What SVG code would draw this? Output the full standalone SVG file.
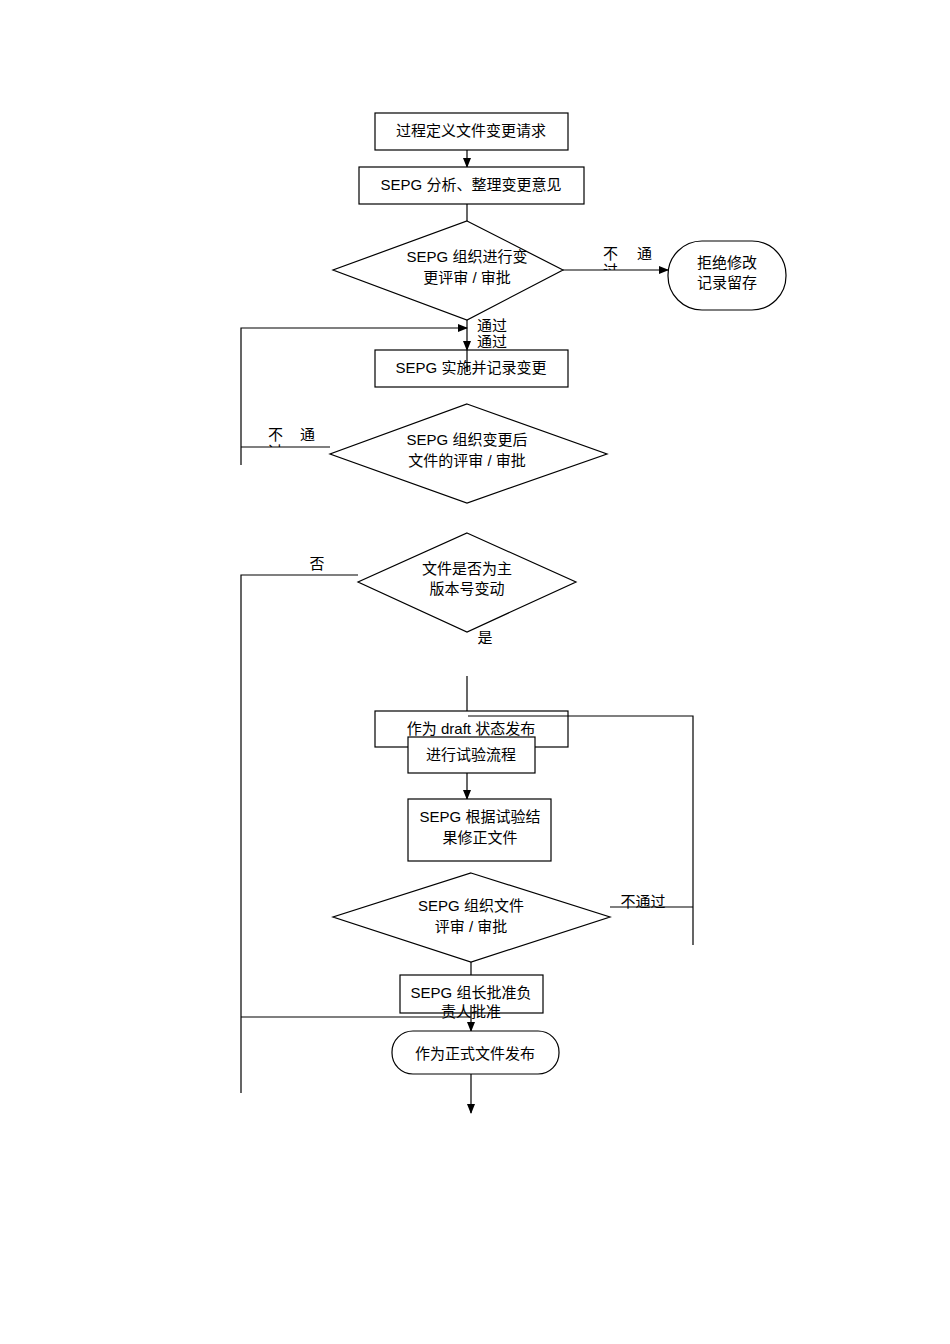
<svg xmlns="http://www.w3.org/2000/svg" width="950" height="1344" viewBox="0 0 950 1344">
<style>
.s{fill:#fff;stroke:#000;stroke-width:1.2}
.l{fill:none;stroke:#000;stroke-width:1.2}
text{font-family:"Liberation Sans","Noto Sans CJK SC",sans-serif;font-size:15px;fill:#000;text-anchor:middle}
.st{text-anchor:start}
</style>
<defs>
<marker id="a" markerWidth="10" markerHeight="8" refX="9" refY="4" orient="auto" markerUnits="userSpaceOnUse"><path d="M0,0L10,4L0,8z" fill="#000"/></marker>
<clipPath id="c1"><rect x="595" y="255" width="60" height="15"/></clipPath>
<clipPath id="c2"><rect x="260" y="436" width="60" height="11"/></clipPath>
</defs>
<g id="connectors">
<line class="l" x1="467" y1="150" x2="467" y2="167" marker-end="url(#a)"/>
<line class="l" x1="467" y1="204" x2="467" y2="221"/>
<line class="l" x1="563" y1="270" x2="668" y2="270" marker-end="url(#a)"/>
<polyline class="l" points="241,465 241,328 467,328" marker-end="url(#a)"/>
<line class="l" x1="467" y1="320" x2="467" y2="350" stroke-width="2" marker-end="url(#a)"/>
<line class="l" x1="330" y1="447" x2="241" y2="447"/>
<polyline class="l" points="358,575 241,575 241,1093"/>
<line class="l" x1="467" y1="676" x2="467" y2="711"/>
<line class="l" x1="467" y1="773" x2="467" y2="799" marker-end="url(#a)"/>
<line class="l" x1="610" y1="907" x2="693" y2="907"/>
<polyline class="l" points="693,945 693,716 468,716" marker-end="url(#a)"/>
<line class="l" x1="471" y1="962" x2="471" y2="975"/>
</g>
<g id="n1"><rect class="s" x="375" y="113" width="193" height="37"/><text x="471" y="136">过程定义文件变更请求</text></g>
<g id="n2"><rect class="s" x="359" y="167" width="225" height="37"/><text x="471" y="190">SEPG 分析、整理变更意见</text></g>
<g id="n3"><polygon class="s" points="467,221 563,270 467,320 333,270"/><text x="467" y="262">SEPG 组织进行变</text><text x="467" y="283">更评审 / 审批</text></g>
<g id="n4"><rect class="s" x="668" y="241" width="118" height="69" rx="34"/><text x="727" y="268">拒绝修改</text><text x="727" y="288">记录留存</text></g>
<g id="lbl1"><text class="st" x="603" y="259">不</text><text class="st" x="637" y="259">通</text><text class="st" x="603" y="276" clip-path="url(#c1)">过</text></g>
<g id="lbl2"><text class="st" x="477" y="331">通过</text><rect x="476" y="335" width="44" height="14" fill="#fff"/><text class="st" x="477" y="347">通过</text></g>
<g id="n5"><rect class="s" x="375" y="350" width="193" height="37"/><text x="471" y="373">SEPG 实施并记录变更</text></g>
<line class="l" x1="467" y1="350" x2="467" y2="372" stroke-width="2"/>
<g id="n6"><polygon class="s" points="467,404 607,454 467,503 330,454"/><text x="467" y="445">SEPG 组织变更后</text><text x="467" y="466">文件的评审 / 审批</text></g>
<g id="lbl3"><text class="st" x="268" y="440">不</text><text class="st" x="300" y="440">通</text><text class="st" x="268" y="457" clip-path="url(#c2)">过</text></g>
<g id="n7"><polygon class="s" points="467,533 576,582 467,632 358,582"/><text x="467" y="574">文件是否为主</text><text x="467" y="594">版本号变动</text></g>
<text x="317" y="569">否</text><text x="485" y="643">是</text>
<g id="n8"><rect class="s" x="375" y="711" width="193" height="36" fill="none"/><text x="471" y="734">作为 draft 状态发布</text></g>
<line class="l" x1="468" y1="716" x2="568" y2="716"/>
<g id="n9"><rect class="s" x="408" y="737" width="127" height="36"/><text x="471" y="760">进行试验流程</text></g>
<g id="n10"><rect class="s" x="408" y="799" width="143" height="62"/><text x="480" y="822">SEPG 根据试验结</text><text x="480" y="843">果修正文件</text></g>
<g id="n11"><polygon class="s" points="471,873 610,917 471,962 333,917"/><text x="471" y="911">SEPG 组织文件</text><text x="471" y="932">评审 / 审批</text></g>
<text x="643" y="907">不通过</text>
<g id="n12"><rect class="s" x="400" y="975" width="143" height="38"/><text x="471" y="998">SEPG 组长批准负</text><text x="471" y="1017">责人批准</text></g>
<g id="connectors2">
<line class="l" x1="241" y1="1017" x2="471" y2="1017"/>
<line class="l" x1="471" y1="1005" x2="471" y2="1031" marker-end="url(#a)"/>
<line class="l" x1="471" y1="1074" x2="471" y2="1113" marker-end="url(#a)"/>
</g>
<g id="n13"><rect class="s" x="392" y="1031" width="167" height="43" rx="21"/><text x="475" y="1059">作为正式文件发布</text></g>
</svg>
